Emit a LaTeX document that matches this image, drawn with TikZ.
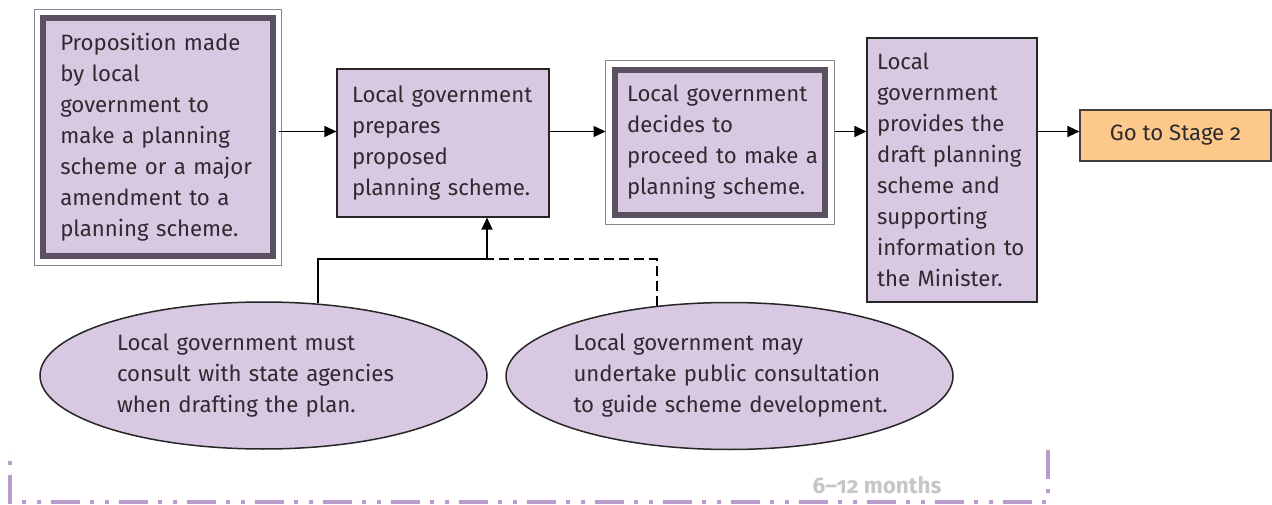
\documentclass[tikz,border=0pt]{standalone}
\usepackage{fontspec}
\setmainfont{Fira Sans}[Numbers=OldStyle]
\usetikzlibrary{shapes.geometric,arrows.meta,backgrounds}
\hyphenpenalty=10000
\hbadness=10000
\hfuzz=20pt
\definecolor{lav}{HTML}{D8C8E2}
\definecolor{bandc}{HTML}{5A5062}
\definecolor{framec}{HTML}{8A8490}
\definecolor{txt}{HTML}{2E2A30}
\definecolor{orng}{HTML}{FDC98A}
\definecolor{brk}{HTML}{B89CCB}
\definecolor{lbl}{HTML}{C6C6C6}
\tikzset{
  every node/.style={font=\fontsize{22.2}{31}\selectfont, text=txt},
  plainbox/.style={rectangle, draw=black!85, line width=1.2pt, fill=lav, inner sep=0pt, align=left},
  bandbox/.style={rectangle, draw=bandc, line width=6pt, fill=lav, inner sep=0pt, align=left},
  oval/.style={ellipse, draw=black!85, line width=1.5pt, fill=lav, inner sep=0pt, align=left,
     minimum width=447pt, minimum height=147pt},
  gobox/.style={rectangle, draw=black!75, line width=1.2pt, fill=orng, inner sep=0pt},
  flow/.style={line width=1.5pt, -{Triangle[length=12pt,width=11pt]}},
  link/.style={line width=1.5pt},
  dlink/.style={line width=1.5pt, dash pattern=on 10pt off 5pt},
  frameline/.style={draw=framec, line width=1pt},
  bracket/.style={draw=brk, line width=4.5pt, dash pattern=on 29pt off 10pt on 4pt off 11pt on 4pt off 10pt},
}
\begin{document}
\begin{tikzpicture}[x=1pt,y=-1pt]
\useasboundingbox (0,0) rectangle (1272,505);

\node[bandbox, minimum width=230.5pt, minimum height=238pt, text width=195pt] (b1) at (157.75,137.5)
  {Proposition made\\by local\\government to\\make a planning\\scheme or a major\\amendment to a\\planning scheme.};
\draw[frameline] ([xshift=-5.5pt,yshift=6pt]b1.north west) rectangle ([xshift=5.5pt,yshift=-6pt]b1.south east);

\node[plainbox, minimum width=212pt, minimum height=148pt, text width=182pt] (b2) at (443,143)
  {Local government\\prepares\\proposed\\planning scheme.};

\node[bandbox, minimum width=210pt, minimum height=145pt, text width=186pt] (b3) at (720,142.5)
  {Local government\\decides to\\\mbox{proceed to make a}\\planning scheme.};
\draw[frameline] ([xshift=-6.5pt,yshift=6.5pt]b3.north west) rectangle ([xshift=6.5pt,yshift=-6.5pt]b3.south east);

\node[plainbox, minimum width=170pt, minimum height=264pt, text width=150pt] (b4) at (952,170)
  {Local\\government\\provides the\\draft planning\\scheme and\\supporting\\information to\\the Minister.};

\node[gobox, minimum width=191pt, minimum height=51pt] (b5) at (1175.5,135.5) {Go to Stage 2};

\node[oval, text width=293pt] (e1) at (263.5,375.5)
  {Local government must\\consult with state agencies\\when drafting the plan.};
\node[oval, text width=312pt] (e2) at (729.5,376)
  {Local government may\\undertake public consultation\\\mbox{to guide scheme development.}};

\coordinate (j) at (487,259);
\coordinate (r) at (0,131.5);

\begin{scope}[on background layer]
\draw[link] (e1.53.7) |- (j);
\draw[dlink] (e2.136.4) |- (j);
\end{scope}
\draw[flow] (j) -- (b2.south -| j);

\draw[flow] (b1.east |- r) ++(3pt,0) -- (b2.west |- r);
\draw[flow] (b2.east |- r) -- ([xshift=-6.5pt]b3.west |- r);
\draw[flow] ([xshift=6.5pt]b3.east |- r) -- (b4.west |- r);
\draw[flow] (b4.east |- r) -- (b5.west |- r);

\coordinate (k1) at (1048,450);
\coordinate (k2) at (1048,502);
\coordinate (k3) at (10,502);
\coordinate (k4) at (10,450);
\draw[bracket] (k1) -- (k2) -- (k3) -- (k4);
\node[text=lbl, font=\fontsize{22.5}{24}\selectfont\bfseries, anchor=base east] (lab) at (945,493) {6–12 months};
\end{tikzpicture}
\end{document}
